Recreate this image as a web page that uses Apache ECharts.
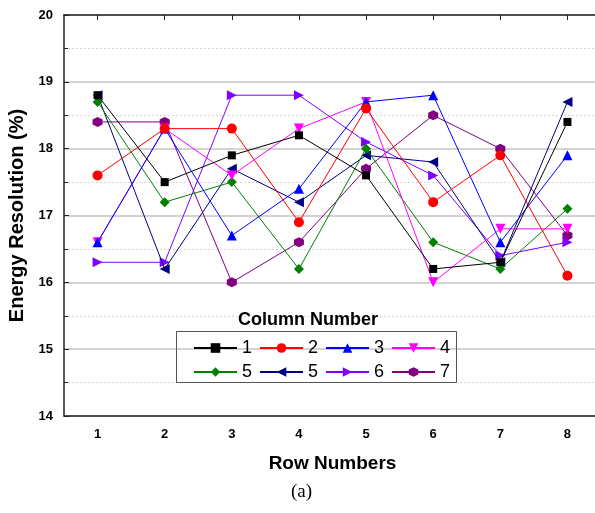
<!DOCTYPE html>
<html>
<head>
<meta charset="utf-8">
<script src="https://cdn.jsdelivr.net/npm/echarts@6/dist/echarts.min.js"></script>
<style>html,body{margin:0;padding:0;background:#fff}#c{width:595px;height:513px}</style>
</head>
<body>
<div id="c"></div>
<script>
const rows = ['1','2','3','4','5','6','7','8'];
const seriesNames = ['1','2','3','4','5','5 ','6','7'];
const col1 = [18.8, 17.5, 17.9, 18.2, 17.6, 16.2, 16.3, 18.4];
const col2 = [17.6, 18.3, 18.3, 16.9, 18.6, 17.2, 17.9, 16.1];
const col3 = [16.6, 18.3, 16.7, 17.4, 18.7, 18.8, 16.6, 17.9];
const col4 = [16.6, 18.3, 17.6, 18.3, 18.7, 16.0, 16.8, 16.8];
const col5a = [18.7, 17.2, 17.5, 16.2, 18.0, 16.6, 16.2, 17.1];
const col5b = [18.8, 16.2, 17.7, 17.2, 17.9, 17.8, 16.3, 18.7];
const col6 = [16.3, 16.3, 18.8, 18.8, 18.1, 17.6, 16.4, 16.6];
const col7 = [18.4, 18.4, 16.0, 16.6, 17.7, 18.5, 18.0, 16.7];
const yTicks = [14, 15, 16, 17, 18, 19, 20];

const values = [col1, col2, col3, col4, col5a, col5b, col6, col7];
const colors = ['#000000', '#ff0000', '#0000ff', '#ff00ff', '#008000', '#000080', '#8000ff', '#800080'];
const hex = 'path://M0,-1 L0.866,-0.5 L0.866,0.5 L0,1 L-0.866,0.5 L-0.866,-0.5 Z';
const symbols = ['rect', 'circle', 'triangle', 'triangle', 'diamond', 'triangle', 'triangle', hex];
const rotates = [0, 0, 0, 180, 0, 90, -90, 0];
const sizes = [8, 10, 10, 10, 10, 10, 10, 10];

const FONT = 'Arial, "Liberation Sans", sans-serif';
const chart = echarts.init(document.getElementById('c'), null, {renderer: 'canvas'});

const series = values.map((v, i) => ({
  name: seriesNames[i],
  type: 'line',
  data: v,
  symbol: symbols[i],
  symbolRotate: rotates[i],
  symbolSize: sizes[i],
  showAllSymbol: true,
  lineStyle: {color: colors[i], width: 1},
  itemStyle: {color: colors[i]},
  emphasis: {disabled: true},
  animation: false,
  z: 10 - i
}));

const legendCommon = {
  orient: 'horizontal',
  itemWidth: 43,
  itemHeight: 12,
  itemGap: 7,
  padding: 0,
  selectedMode: false,
  formatter: n => n.trim(),
  textStyle: {fontFamily: FONT, fontSize: 18, color: '#000', padding: [0, 0, 0, 0]}
};

chart.setOption({
  animation: false,
  backgroundColor: '#fff',
  grid: {left: 64, width: 537, top: 15, height: 401, containLabel: false, outerBoundsMode: 'none'},
  legend: [
    Object.assign({}, legendCommon, {left: 193, top: 339, data: seriesNames.slice(0, 4)}),
    Object.assign({}, legendCommon, {left: 193, top: 363, data: seriesNames.slice(4, 8)})
  ],
  xAxis: [{
    type: 'category',
    data: rows,
    boundaryGap: true,
    position: 'bottom',
    name: 'Row Numbers',
    nameLocation: 'middle',
    nameGap: 38,
    nameTextStyle: {fontFamily: FONT, fontSize: 19, fontWeight: 'bold', color: '#000'},
    axisLine: {lineStyle: {color: '#222', width: 1.5}},
    axisTick: {inside: true, alignWithLabel: true, length: 5, lineStyle: {color: '#222', width: 1}},
    axisLabel: {fontFamily: FONT, fontSize: 13, fontWeight: 'bold', color: '#000', margin: 12},
    splitLine: {show: false}
  }, {
    type: 'category',
    data: rows,
    boundaryGap: true,
    position: 'top',
    axisLine: {lineStyle: {color: '#222', width: 1.5}},
    axisTick: {show: true, inside: true, alignWithLabel: true, length: 5, lineStyle: {color: '#222', width: 1}},
    axisLabel: {show: false},
    splitLine: {show: false}
  }],
  yAxis: {
    type: 'value',
    min: yTicks[0],
    max: yTicks[yTicks.length - 1],
    interval: 1,
    name: 'Energy Resolution (%)',
    nameLocation: 'middle',
    nameGap: 33,
    nameTextStyle: {fontFamily: FONT, fontSize: 20, fontWeight: 'bold', color: '#000'},
    axisLine: {show: true, lineStyle: {color: '#222', width: 1.5}},
    axisTick: {show: true, inside: true, length: 5, lineStyle: {color: '#222', width: 1}},
    minorTick: {show: true, splitNumber: 2, length: 4, lineStyle: {color: '#222', width: 1}},
    axisLabel: {fontFamily: FONT, fontSize: 13, fontWeight: 'bold', color: '#000', margin: 11},
    splitLine: {show: true, lineStyle: {color: '#c4c4c4', width: 1.5}},
    minorSplitLine: {show: true, lineStyle: {color: '#d8d8d8', width: 1, type: [2, 2]}}
  },
  series: series,
  graphic: [
    {type: 'rect', left: 176, top: 331, shape: {width: 280, height: 51},
     style: {fill: 'rgba(255,255,255,0)', stroke: '#555', lineWidth: 1}, z: 100},
    {type: 'text', left: 238, top: 311, z: 100,
     style: {text: 'Column Number', fontFamily: FONT, fontSize: 18, fontWeight: 'bold', fill: '#000'}},
    {type: 'text', top: 483, left: 291, z: 100,
     style: {text: '(a)', fontFamily: '"Liberation Serif", "DejaVu Serif", serif', fontSize: 19, fill: '#000'}}
  ]
});
</script>
</body>
</html>
